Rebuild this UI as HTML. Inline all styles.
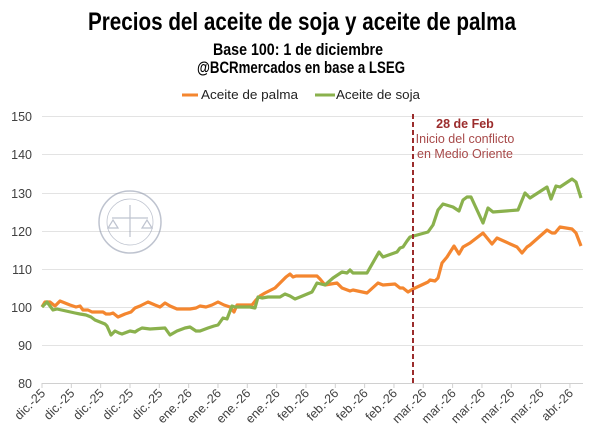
<!DOCTYPE html>
<html><head><meta charset="utf-8"><style>
html,body{margin:0;padding:0;background:#fff}
svg{display:block}
.t{font-family:"Liberation Sans Narrow","Liberation Sans",sans-serif;font-weight:bold;fill:#000}
.a{font-family:"Liberation Sans",sans-serif;font-size:12.5px;fill:#404040}
</style></head><body>
<svg width="600" height="434" viewBox="0 0 600 434" xmlns="http://www.w3.org/2000/svg">
<text class="t" x="302" y="30" font-size="25" text-anchor="middle" textLength="428" lengthAdjust="spacingAndGlyphs">Precios del aceite de soja y aceite de palma</text>
<text class="t" x="298" y="55" font-size="17" text-anchor="middle" textLength="170" lengthAdjust="spacingAndGlyphs">Base 100: 1 de diciembre</text>
<text class="t" x="301" y="73" font-size="17" text-anchor="middle" textLength="208" lengthAdjust="spacingAndGlyphs">@BCRmercados en base a LSEG</text>
<line x1="182" y1="95" x2="198" y2="95" stroke="#f4862f" stroke-width="3"/>
<text x="201" y="99" font-family="Liberation Sans,sans-serif" font-size="13" fill="#222" textLength="97" lengthAdjust="spacingAndGlyphs">Aceite de palma</text>
<line x1="315" y1="95" x2="335" y2="95" stroke="#8ab14d" stroke-width="3"/>
<text x="336" y="99" font-family="Liberation Sans,sans-serif" font-size="13" fill="#222" textLength="84" lengthAdjust="spacingAndGlyphs">Aceite de soja</text>
<g stroke="#e3e3e3" stroke-width="1">
<line x1="42" x2="583" y1="116.5" y2="116.5"/><line x1="42" x2="583" y1="154.5" y2="154.5"/><line x1="42" x2="583" y1="193.5" y2="193.5"/><line x1="42" x2="583" y1="231.5" y2="231.5"/><line x1="42" x2="583" y1="269.5" y2="269.5"/><line x1="42" x2="583" y1="307.5" y2="307.5"/><line x1="42" x2="583" y1="345.5" y2="345.5"/>
</g>
<line x1="42" x2="583" y1="383.5" y2="383.5" stroke="#d0d0d0"/>
<g class="a" text-anchor="end">
<text x="32" y="121">150</text><text x="32" y="159">140</text><text x="32" y="198">130</text><text x="32" y="236">120</text><text x="32" y="274">110</text><text x="32" y="312">100</text><text x="32" y="350">90</text><text x="32" y="388">80</text>
</g>
<g id="ticks" stroke="#d0d0d0"></g>
<g class="a" font-size="12" id="xl"></g>
<g opacity="0.55" fill="none" stroke="#8a93a8">
<circle cx="130" cy="222" r="31" stroke-width="1.5"/>
<circle cx="130" cy="222" r="23" stroke-width="0.8"/>
<path d="M112 218 h36 M130 205 v32 M118 228 l-5 -8 l-5 8 z M152 228 l-5 -8 l-5 8 z" stroke-width="1.2"/>
</g>
<polyline fill="none" stroke="#f4862f" stroke-width="3.2" stroke-linejoin="round" points="42,307 45,302 50,302 55,306 60,301 70,305 76,307 80,306 83,310 88,310 92,312 100,312 103,312 106,314 110,314 113,313 118,317 125,314 131,312 135,308 140,306 148,302 155,305 160,307 165,303 170,306 177,309 190,309 196,308 200,306 206,307 212,305 218,302 224,305 230,307 234,312 237,305 252,305 256,300 260,296 265,293 275,288 280,283 286,277 290,274 293,277 296,276 317,276 320,279 325,285 337,283 342,288 350,291 353,290 367,293 378,283 383,285 395,284 400,288 403,288 408,292 413,289 428,282 430,280 435,281 438,278 442,263 447,257 454,246 459,254 463,247 470,243 483,233 492,244 497,238 517,247 522,253 527,247 530,245 547,230 552,233 555,233 560,227 572,229 576,233 581,246"/>
<polyline fill="none" stroke="#8ab14d" stroke-width="3.2" stroke-linejoin="round" points="42,307 47,302 50,306 53,310 57,309 75,313 80,314 86,315 91,317 95,320 100,322 105,324 107,326 111,335 115,331 119,333 122,334 130,331 135,332 138,330 142,328 150,329 165,328 170,335 177,331 185,328 190,327 196,331 200,331 208,328 214,326 218,325 223,318 227,319 232,306 235,307 250,307 255,308 258,297 262,298 268,297 280,297 285,294 290,296 295,299 300,297 312,292 317,283 325,285 333,278 342,272 347,273 350,270 353,273 367,273 379,252 383,257 397,252 400,248 403,247 407,241 410,237 428,232 433,225 438,210 443,204 453,207 459,211 463,200 467,197 471,197 483,223 488,208 493,212 518,210 525,193 530,198 547,187 551,199 556,186 560,187 572,179 576,182 581,198"/>
<line x1="413" y1="114" x2="413" y2="384" stroke="#9b2c2c" stroke-width="2" stroke-dasharray="5,3"/>
<text x="465" y="128" font-family="Liberation Sans,sans-serif" font-size="12.5" font-weight="bold" fill="#9b2c2c" text-anchor="middle">28 de Feb</text>
<text x="465" y="143" font-family="Liberation Sans,sans-serif" font-size="12.5" fill="#a84a4a" text-anchor="middle">Inicio del conflicto</text>
<text x="465" y="158" font-family="Liberation Sans,sans-serif" font-size="12.5" fill="#a84a4a" text-anchor="middle">en Medio Oriente</text>
<script>
var L=["dic.-25","dic.-25","dic.-25","dic.-25","dic.-25","ene.-26","ene.-26","ene.-26","ene.-26","feb.-26","feb.-26","feb.-26","feb.-26","mar.-26","mar.-26","mar.-26","mar.-26","mar.-26","abr.-26"];
var t=document.getElementById('ticks'),g=document.getElementById('xl'),ns="http://www.w3.org/2000/svg";
for(var i=0;i<19;i++){var x=42+i*29.33;
var l=document.createElementNS(ns,'line');l.setAttribute('x1',x);l.setAttribute('x2',x);l.setAttribute('y1',383);l.setAttribute('y2',388);t.appendChild(l);
var tx=document.createElementNS(ns,'text');tx.setAttribute('text-anchor','end');tx.setAttribute('transform','translate('+(x+4)+',394) rotate(-45)');tx.textContent=L[i];g.appendChild(tx);}
</script>
</svg>
</body></html>
